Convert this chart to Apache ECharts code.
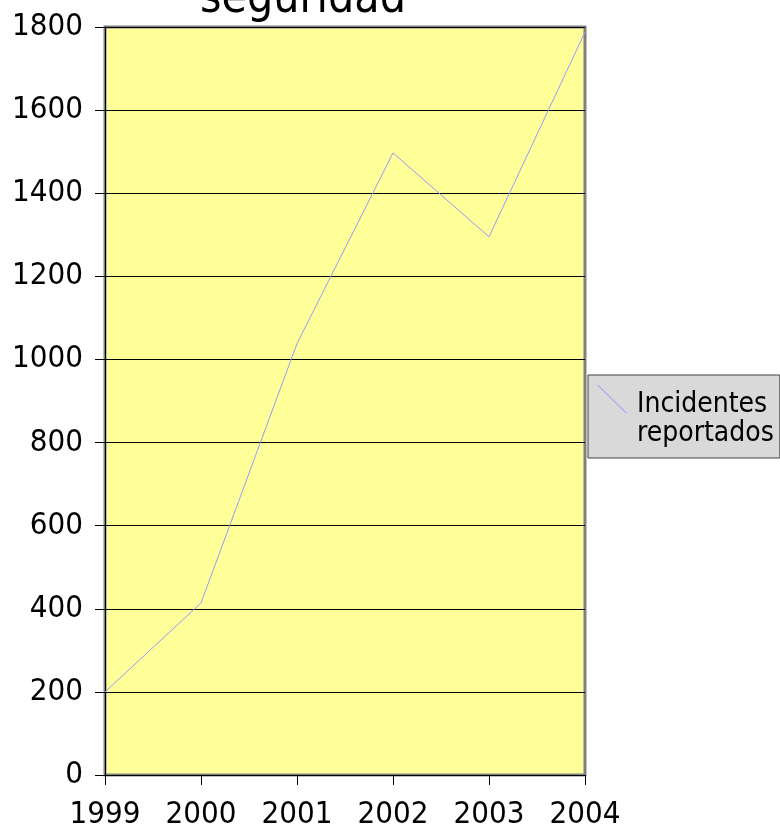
<!DOCTYPE html>
<html>
<head>
<meta charset="utf-8">
<script src="https://cdn.jsdelivr.net/npm/echarts@6/dist/echarts.min.js"></script>
<style>
  html, body { margin: 0; padding: 0; background: #fff; }
  #chart { width: 780px; height: 827px; }
</style>
</head>
<body>
<div id="chart"></div>
<script>
// values
var years = ["1999", "2000", "2001", "2002", "2003", "2004"];
var incidentes = [200, 414, 1038, 1497, 1295, 1788];
var serieName = "Incidentes reportados";

var font = "DejaVu Sans Condensed";
var chart = echarts.init(document.getElementById("chart"));

chart.setOption({
    animation: false,
    textStyle: { fontFamily: font },
    graphic: [{
        type: "text",
        left: 200,
        top: -23,
        style: {
            text: "seguridad",
            font: "46px 'DejaVu Sans Condensed'",
            fill: "#000"
        }
    }],
    grid: {
        left: 105, right: 195, top: 27, bottom: 52,
        outerBoundsMode: "none",
        show: true,
        backgroundColor: "#ffff99",
        borderColor: "#808080",
        borderWidth: 3
    },
    legend: {
        left: 588, top: 375,
        orient: "vertical",
        padding: [10, 6, 5, 9],
        backgroundColor: "#d9d9d9",
        borderColor: "#404040",
        borderWidth: 1,
        borderRadius: 0,
        itemWidth: 35, itemHeight: 68,
        itemGap: 0,
        // diagonal line at the top of a transparent 35x68 box
        icon: "path://M0,0L1.2,0L30,28L28.8,28Z M35,68L35,68",
        itemStyle: { color: "#9999ff", borderWidth: 0 },
        formatter: function () { return "Incidentes\nreportados"; },
        textStyle: { fontFamily: font, fontSize: 28, lineHeight: 29, color: "#000" },
        data: [serieName]
    },
    xAxis: {
        type: "category",
        data: years,
        boundaryGap: false,
        axisLine: { lineStyle: { color: "#000", width: 1 } },
        axisTick: { show: true, length: 10, alignWithLabel: true, lineStyle: { color: "#000" } },
        axisLabel: { fontFamily: font, fontSize: 31, color: "#000", margin: 24, interval: 0 },
        splitLine: { show: false }
    },
    yAxis: {
        type: "value",
        min: 0, max: 1800, interval: 200,
        axisLine: { show: true, lineStyle: { color: "#000", width: 1 } },
        axisTick: { show: true, length: 10, lineStyle: { color: "#000" } },
        axisLabel: {
            fontFamily: font, fontSize: 31, color: "#000", margin: 22,
            formatter: function (v) { return String(v); }
        },
        splitLine: { show: true, lineStyle: { color: "#000", width: 1 } }
    },
    series: [{
        name: serieName,
        type: "line",
        data: incidentes,
        showSymbol: false,
        symbol: "none",
        lineStyle: { color: "#9999ff", width: 1 },
        itemStyle: { color: "#9999ff" }
    }]
});
</script>
</body>
</html>
